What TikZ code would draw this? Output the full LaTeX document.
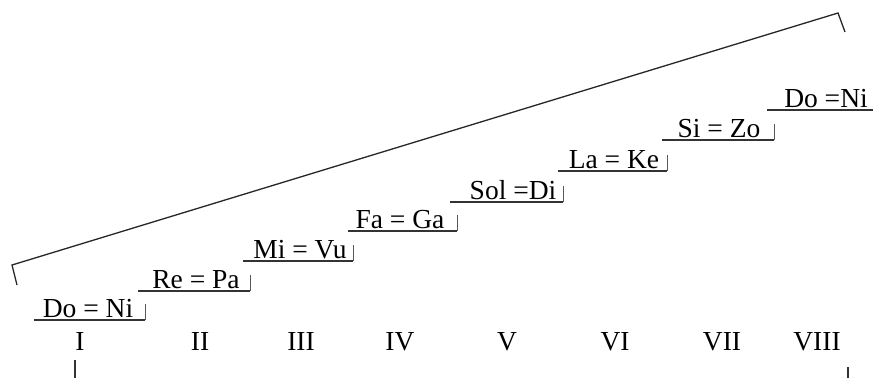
\documentclass[tikz,border=0pt]{standalone}
\usepackage{fontspec}
\setmainfont{Liberation Serif}
\begin{document}
\begin{tikzpicture}[x=1pt,y=-1pt,
  lbl/.style={anchor=base,inner sep=0pt,font=\fontsize{27.5}{30}\selectfont},
  ln/.style={line width=1.3pt,color=black!85},
  ul/.style={line width=1.1pt,color=black!80},
  bar/.style={line width=0.9pt,color=black!65}]
\useasboundingbox (0,0) rectangle (874,378);
% big bracket
\coordinate (bl) at (17,285);
\coordinate (bc) at (12,265);
\coordinate (tc) at (838,13);
\coordinate (tr) at (845,32);
\draw[ln] (bl) -- (bc) -- (tc) -- (tr);
% steps
\foreach \i/\xa/\xb/\y/\xc/\t in {1/34/145/320/88/{Do = Ni},2/138/250/291/196/{Re = Pa},3/243/353/261/300/{Mi = Vu},4/348/457/231/400/{Fa = Ga},5/450/563/202/513/{Sol =Di},6/558/667/171/614/{La = Ke},7/662/774/140/719/{Si = Zo}}{
  \coordinate (u\i a) at (\xa,\y);
  \coordinate (u\i b) at (\xb,\y);
  \coordinate (u\i c) at (\xb,\y-16);
  \node[lbl] (t\i) at (\xc,\y-3) {\t};
  \draw[ul] (u\i a) -- (u\i b);
  \draw[bar] (u\i b) -- (u\i c);
}
\coordinate (u8a) at (767,110);
\coordinate (u8b) at (873,110);
\node[lbl] (t8) at (826,107) {Do =Ni};
\draw[ul] (u8a) -- (u8b);
% roman numerals
\foreach \n/\x/\r in {1/80/I,2/200/II,3/301/III,4/400/IV,5/507/V,6/615/VI,7/722/VII,8/817/VIII}{
  \node[lbl] (r\n) at (\x,350) {\r};
}
\coordinate (v1a) at (75,360);
\coordinate (v1b) at (75,378);
\coordinate (v8a) at (848,367);
\coordinate (v8b) at (848,378);
\draw[line width=1.1pt,color=black!80] (v1a) -- (v1b);
\draw[line width=1.1pt,color=black!80] (v8a) -- (v8b);
\end{tikzpicture}
\end{document}
